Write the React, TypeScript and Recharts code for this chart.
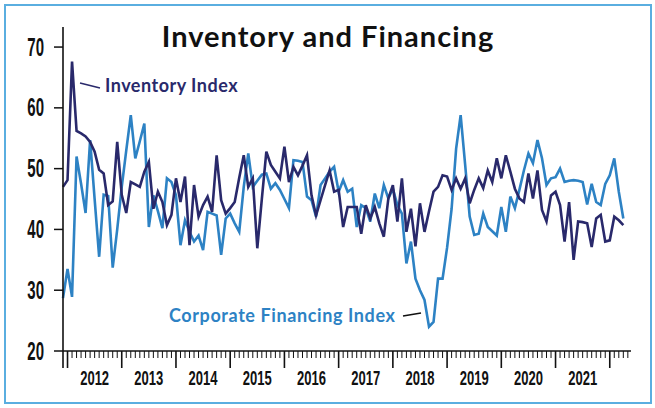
import React from 'react';
import { LineChart, Line, XAxis, YAxis } from 'recharts';

// monthly readings, Dec 2011 .. Apr 2022
const inventory = [
  47.0, 48.1, 67.6, 56.2, 55.8, 55.3, 54.4, 52.8, 49.8, 49.2, 44.0, 44.6, 54.4, 45.7, 42.7, 47.8,
  47.4, 47.0, 49.5, 51.1, 43.4, 46.2, 44.5, 40.7, 42.4, 48.4, 44.5, 48.7, 37.4, 47.3, 42.1, 44.0,
  45.4, 42.9, 52.2, 44.8, 42.6, 43.5, 44.5, 48.5, 52.2, 47.0, 48.4, 36.9, 45.0, 52.8, 50.6, 49.5,
  48.4, 53.6, 47.8, 50.3, 48.9, 50.5, 52.2, 45.6, 42.3, 44.8, 47.3, 49.7, 46.2, 46.5, 40.4, 43.7,
  43.7, 43.7, 39.3, 44.0, 41.8, 43.7, 41.0, 38.8, 45.1, 47.3, 41.3, 48.4, 39.6, 43.4, 37.2, 44.3,
  39.6, 43.0, 46.2, 47.0, 48.9, 48.7, 46.5, 48.4, 46.7, 48.4, 44.3, 46.5, 48.4, 46.8, 49.7, 47.8,
  51.7, 48.4, 52.2, 49.5, 46.7, 45.1, 44.5, 49.2, 45.1, 49.7, 43.2, 41.3, 45.6, 46.2, 44.0, 38.0,
  44.5, 35.0, 41.3, 41.2, 41.0, 37.1, 41.8, 42.4, 38.0, 38.2, 42.1, 41.5, 40.7,
];

const financing = [
  28.7, 33.5, 28.9, 52.0, 47.5, 42.7, 54.7, 45.0, 35.5, 45.7, 45.5, 33.7, 40.0, 47.0, 53.0, 58.8,
  51.7, 54.5, 57.4, 40.4, 45.6, 43.0, 40.2, 48.4, 47.8, 45.6, 37.4, 41.5, 39.6, 38.0, 39.0, 36.6,
  42.9, 42.6, 42.3, 35.8, 41.8, 42.6, 41.0, 39.6, 47.0, 52.5, 47.0, 48.0, 49.0, 49.2, 46.7, 47.6,
  46.5, 45.0, 43.5, 51.4, 51.3, 51.1, 45.4, 44.8, 42.1, 47.3, 48.4, 49.5, 50.3, 46.2, 48.1, 46.2,
  46.7, 40.4, 44.0, 43.5, 41.3, 45.9, 43.5, 47.3, 45.1, 46.7, 44.0, 42.6, 34.4, 38.0, 31.9, 30.0,
  28.4, 24.0, 24.8, 31.9, 31.9, 37.0, 43.4, 53.3, 58.8, 50.6, 42.1, 39.1, 39.3, 42.6, 40.4, 39.7,
  39.0, 43.7, 39.6, 45.4, 43.5, 46.5, 49.7, 52.5, 50.9, 54.7, 51.7, 47.3, 48.4, 48.6, 50.0, 47.8,
  48.0, 48.1, 48.0, 47.8, 44.1, 47.5, 44.5, 44.0, 47.5, 48.9, 51.7, 46.2, 41.8,
];

const years = ['2012', '2013', '2014', '2015', '2016', '2017', '2018', '2019', '2020', '2021'];
const yTicks = [20, 30, 40, 50, 60, 70];

const NAVY = '#29296b';
const BLUE = '#2d82c4';
const FRAME = '#5aaee0';
const COND = "'Liberation Sans', Arial, sans-serif";
const LABEL_FONT = "Lato, 'Open Sans', sans-serif";

const data = inventory.map((v, i) => {
  const m = 11 + i; // months after Jan 2011
  return {
    idx: i,
    month: `${2011 + Math.floor(m / 12)}-${String((m % 12) + 1).padStart(2, '0')}`,
    inventory: v,
    financing: financing[i],
  };
});

// one tick per month, plus a bit of axis past the last reading
const monthTicks = Array.from({ length: 126 }, (_, i) => i);

const MonthTick = (props: any) => {
  const { x, y, payload } = props;
  const m = payload.value;
  const major = m === 0 || (m - 1) % 12 === 0;
  const labelAt = (m - 1) % 12 === 6 ? years[(m - 7) / 12] : null;
  return (
    <g>
      <line x1={x} x2={x} y1={y} y2={y + (major ? 17 : 7)} stroke="#111" strokeWidth={major ? 1.6 : 1} />
      {labelAt && (
        <text
          transform={`translate(${x},${y + 34}) scale(0.62,1)`}
          textAnchor="middle"
          fontFamily={COND}
          fontSize={21}
          fontWeight={700}
          fill="#111"
        >
          {labelAt}
        </text>
      )}
    </g>
  );
};

const ValueTick = (props: any) => {
  const { x, y, payload } = props;
  return (
    <text
      transform={`translate(${x},${y + 8.5}) scale(0.6,1)`}
      textAnchor="end"
      fontFamily={COND}
      fontSize={25}
      fontWeight={700}
      fill="#111"
    >
      {payload.value}
    </text>
  );
};

export default function App() {
  return (
    <div style={{ position: 'relative', width: 655, height: 408, background: '#fff' }}>
      <style>{'body{margin:0}'}</style>
      <div
        style={{
          position: 'absolute',
          left: 4,
          top: 4,
          width: 644,
          height: 396,
          border: `2px solid ${FRAME}`,
        }}
      />
      <LineChart width={655} height={408} data={data} margin={{ top: 27, right: 24, left: 0, bottom: 0 }}>
        <XAxis
          dataKey="idx"
          type="number"
          domain={[0, 125.7]}
          ticks={monthTicks}
          interval={0}
          tick={<MonthTick />}
          tickLine={false}
          tickSize={0}
          tickMargin={0}
          height={57}
          axisLine={{ stroke: '#111', strokeWidth: 1.6 }}
        />
        <YAxis
          type="number"
          domain={[20, 73.3]}
          ticks={yTicks}
          interval={0}
          width={63}
          tickSize={9}
          tickMargin={10}
          tick={<ValueTick />}
          tickLine={{ stroke: '#111', strokeWidth: 1.5 }}
          axisLine={{ stroke: '#111', strokeWidth: 1.6 }}
        />
        <Line
          type="linear"
          dataKey="financing"
          stroke={BLUE}
          strokeWidth={2.6}
          dot={false}
          isAnimationActive={false}
        />
        <Line
          type="linear"
          dataKey="inventory"
          stroke={NAVY}
          strokeWidth={2.6}
          dot={false}
          isAnimationActive={false}
        />
      </LineChart>
      <svg width={655} height={408} style={{ position: 'absolute', left: 0, top: 0, pointerEvents: 'none' }}>
        <text
          x={328}
          y={47}
          textAnchor="middle"
          fontFamily={LABEL_FONT}
          fontSize={29}
          fontWeight={700}
          letterSpacing={1}
          fill="#111"
        >
          Inventory and Financing
        </text>
        <line x1={80} y1={83} x2={100} y2={88} stroke={NAVY} strokeWidth={1.6} />
        <text x={105} y={92} fontFamily={LABEL_FONT} fontSize={18} fontWeight={700} letterSpacing={0.5} fill={NAVY}>
          Inventory Index
        </text>
        <text x={169} y={322} fontFamily={LABEL_FONT} fontSize={18} fontWeight={700} letterSpacing={0.6} fill={BLUE}>
          Corporate Financing Index
        </text>
        <line x1={403} y1={316} x2={421} y2={313} stroke="#111" strokeWidth={1.6} />
      </svg>
    </div>
  );
}
